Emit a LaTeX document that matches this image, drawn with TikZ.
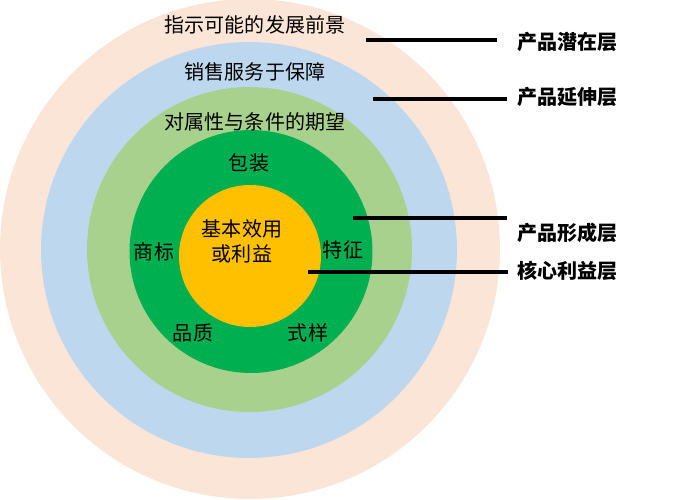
\documentclass[tikz,border=0pt]{standalone}
\usepackage{fontspec}
\setmainfont{Noto Sans CJK SC}
\usepackage{xcolor}
\usetikzlibrary{positioning}
\definecolor{peach}{HTML}{FBE5D6}
\definecolor{skyblue}{HTML}{BDD7EE}
\definecolor{leafgreen}{HTML}{A9D18E}
\definecolor{deepgreen}{HTML}{00B050}
\definecolor{gold}{HTML}{FFC000}

\begin{document}
\begin{tikzpicture}[x=0.02cm,y=-0.02cm,font=\fontsize{11.4}{14}\selectfont,ring/.style={circle,fill=#1,draw=none,inner sep=0pt},layer/.style={anchor=west,inner sep=2pt,font=\fontsize{11.4}{14}\selectfont\bfseries},lead/.style={line width=1.8pt}]
\useasboundingbox (0,0) rectangle (686,500);
\node[ring=peach,minimum size=10cm] (potential) at (250,249) {};
\node[ring=skyblue,minimum size=8.32cm] (extended) at (249,250) {};
\node[ring=leafgreen,minimum size=6.5cm] (expected) at (249.5,249.5) {};
\node[ring=deepgreen,minimum size=4.86cm] (formal) at (251,251.5) {};
\node[ring=gold,minimum size=2.84cm] (core) at (250,256) {};
% ring texts
\node (t1) at (255,25) {指示可能的发展前景};
\node (t2) at (255,72) {销售服务于保障};
\node (t3) at (255,122) {对属性与条件的期望};
\node (pack) at (249,163) {包装};
\node (brand) at (154,252) {商标};
\node (feat) at (343,250) {特征};
\node (qual) at (193,333) {品质};
\node (style) at (308,333) {式样};
\node[align=center,text height=10pt,text depth=3pt] (benefit) at (242,255) {基本效用\\或利益};
% layer labels
\node[layer] (lpot) at (514,42) {产品潜在层};
\node[layer] (lext) at (514,97) {产品延伸层};
\node[layer] (lform) at (514,233) {产品形成层};
\node[layer] (lcore) at (514,271) {核心利益层};
\coordinate (p1) at (366,40);\coordinate (p2) at (373,99);\coordinate (p3) at (353,218);\coordinate (p4) at (308,272);
\draw[lead] (p1) -- ([xshift=-0.34cm]lpot.west |- p1);
\draw[lead] (p2) -- ([xshift=-0.14cm]lext.west |- p2);
\draw[lead] (p3) -- ([xshift=-0.14cm]lform.west |- p3);
\draw[lead] (p4) -- ([xshift=-0.12cm]lcore.west |- p4);
\end{tikzpicture}
\end{document}
